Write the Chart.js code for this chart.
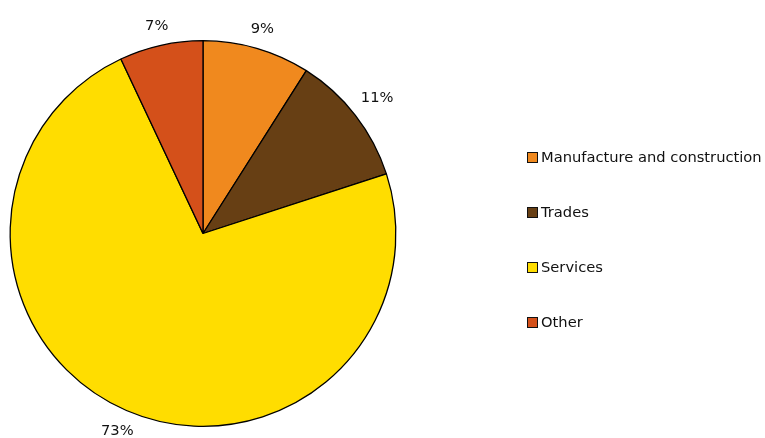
<!DOCTYPE html>
<html>
<head>
<meta charset="utf-8">
<script src="https://cdn.jsdelivr.net/npm/chart.js@4"></script>
<style>
html,body{margin:0;padding:0;background:#fff;}
#wrap{width:765px;height:438px;position:relative;}
</style>
</head>
<body>
<div id="wrap"><canvas id="c" width="765" height="438"></canvas></div>
<script>
const categories = ["Manufacture and construction", "Trades", "Services", "Other"];
const values = [9, 11, 73, 7];
const pctLabels = ["9%", "11%", "73%", "7%"];
const colors = ["#F0891E", "#673F14", "#FFDD00", "#D4501A"];

const FONT = '14.7px "DejaVu Sans", Verdana, sans-serif';

const labelPlugin = {
  id: 'outLabels',
  afterDatasetsDraw(chart) {
    const ctx = chart.ctx;
    const meta = chart.getDatasetMeta(0);
    ctx.save();
    ctx.font = FONT;
    ctx.fillStyle = '#111';
    ctx.textAlign = 'center';
    ctx.textBaseline = 'middle';
    meta.data.forEach((arc, i) => {
      const p = arc.getProps(['x','y','startAngle','endAngle','outerRadius'], true);
      const mid = (p.startAngle + p.endAngle) / 2;
      const cx = Math.cos(mid), sy = Math.sin(mid);
      const txt = pctLabels[i];
      const w = ctx.measureText(txt).width;
      const h = 12;
      const d = p.outerRadius + 11 + (w/2)*Math.abs(cx) + (h/2)*Math.abs(sy);
      ctx.fillText(txt, p.x + cx*d, p.y + sy*d);
    });
    ctx.restore();
  }
};

const legendPlugin = {
  id: 'customLegend',
  afterDraw(chart) {
    const ctx = chart.ctx;
    ctx.save();
    ctx.font = FONT;
    ctx.textAlign = 'left';
    ctx.textBaseline = 'middle';
    const x0 = 527, y0 = 157, step = 55, bs = 11;
    categories.forEach((c, i) => {
      const y = y0 + i*step;
      const top = Math.round(y - bs/2);
      ctx.fillStyle = colors[i];
      ctx.fillRect(x0, top, bs, bs);
      ctx.strokeStyle = '#111';
      ctx.lineWidth = 1;
      ctx.strokeRect(x0 + 0.5, top + 0.5, bs - 1, bs - 1);
      ctx.fillStyle = '#111';
      ctx.fillText(c, x0 + bs + 3, y + 1);
    });
    ctx.restore();
  }
};

new Chart(document.getElementById('c'), {
  type: 'pie',
  data: {
    labels: categories,
    datasets: [{
      data: values,
      backgroundColor: colors,
      borderColor: '#000',
      borderWidth: 1.3
    }]
  },
  options: {
    responsive: false,
    animation: false,
    layout: { padding: { left: 0, right: 359, top: 40, bottom: 11 } },
    plugins: { legend: { display: false }, tooltip: { enabled: false } }
  },
  plugins: [labelPlugin, legendPlugin]
});
</script>
</body>
</html>
